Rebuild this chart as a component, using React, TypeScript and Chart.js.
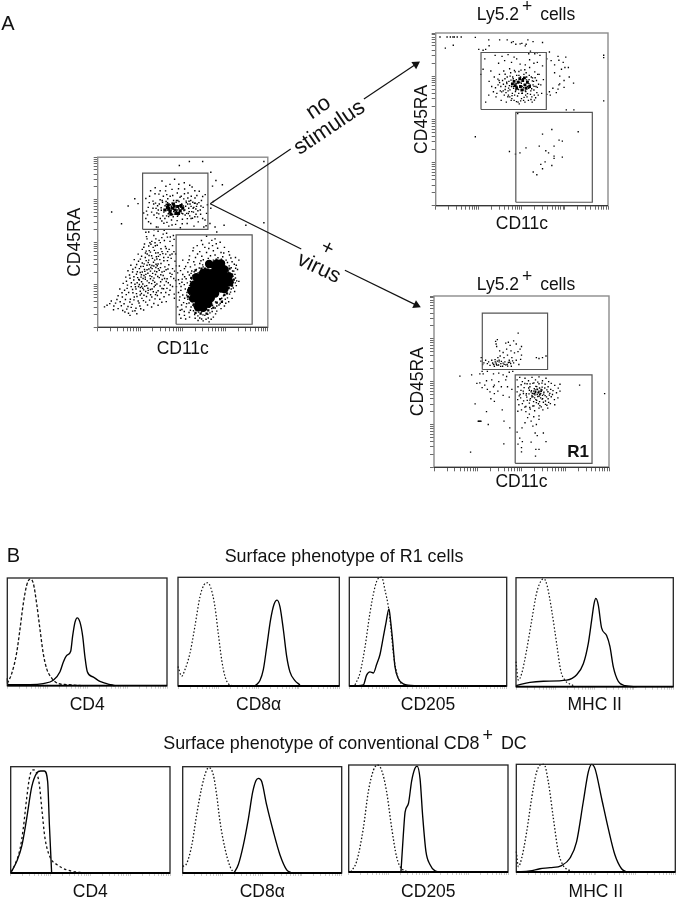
import React, { useEffect, useRef } from "react";
import { Chart, registerables } from "chart.js";

Chart.register(...registerables);

type P = number[];

// log-axis tick channels, four decades over 0..1000
const logTicks = [0,75,119,150,175,194,211,226,239,250,325,369,400,425,444,461,476,489,500,575,619,650,675,694,711,726,739,750,825,869,900,925,944,961,976,989,1000];

// gates [xMin, xMax, yMin, yMax]
const mainUpperGate = [264, 648, 576, 906];
const mainLowerGate = [461, 908, 18, 543];
const noStimUpperGate = [263, 642, 557, 887];
const noStimLowerGate = [465, 909, 20, 540];
const virusUpperGate = [276, 649, 571, 900];
const virusLowerGate = [464, 903, 23, 540];

// parent plot
const mainUpperDots: P[] = [[283,640],[297,705],[305,770],[270,672],[312,610],[325,742],[338,820],[331,660],[345,590],[352,715],[360,783],[368,640],[378,860],[381,735],[389,612],[392,690],[399,802],[405,655],[412,756],[418,595],[425,840],[428,720],[434,631],[441,775],[447,680],[452,870],[458,605],[463,745],[469,652],[475,815],[480,715],[486,585],[491,770],[498,635],[503,700],[509,850],[514,660],[520,742],[526,610],[531,790],[538,680],[543,725],[549,640],[555,825],[561,700],[566,595],[572,760],[578,665],[585,725],[591,620],[597,800],[603,690],[610,745],[617,640],[624,590],[632,780],[640,670],[645,720],[325,700],[348,672],[362,725],[374,688],[383,655],[396,715],[402,740],[409,690],[415,668],[422,705],[431,685],[437,730],[444,650],[450,712],[456,665],[461,735],[467,690],[472,660],[478,740],[483,680],[489,705],[494,725],[500,668],[506,755],[512,690],[517,712],[523,670],[529,725],[535,700],[541,655],[547,745],[553,680],[559,735],[565,705],[571,650],[577,695],[583,775],[589,685],[340,730],[356,690],[367,750],[386,770],[395,640],[406,780],[426,770],[446,745],[468,790],[484,765],[510,785],[530,760],[550,770],[574,730],[605,665],[620,705],[82,678],[140,609],[218,756],[179,713],[237,727],[539,975],[617,975],[480,951],[977,975],[977,615],[695,863],[733,838],[675,830],[665,912],[871,600],[743,600],[700,560],[690,590],[660,610],[665,700],[680,740],[373,703],[389,677],[403,722],[417,651],[433,712],[447,693],[463,681],[477,697],[493,671],[507,687],[521,733],[533,669],[549,711],[563,677],[379,745],[411,733],[441,663],[471,745],[503,713],[537,741],[359,667],[343,699],[329,725],[317,677],[303,733],[293,661],[569,729],[581,711],[595,733],[607,713],[587,649],[557,641],[527,639],[497,609],[467,627],[437,601],[407,617],[377,625],[347,645],[299,621],[287,683],[617,769],[571,803],[541,835],[511,813],[477,841],[437,811],[401,829],[367,803],[337,785],[311,803],[283,757],[631,631],[637,597]];
const mainUpperCore: P[] = [[395,690],[410,705],[425,680],[440,700],[455,690],[470,710],[485,685],[500,700],[415,720],[445,725],[475,670],[430,665],[460,670],[490,715],[420,695],[450,712]];
const mainLeftDots: P[] = [[300,560],[330,540],[355,565],[385,548],[410,530],[290,520],[318,505],[342,520],[368,498],[392,510],[425,505],[445,540],[275,490],[300,478],[326,470],[350,482],[372,462],[398,475],[420,458],[440,480],[262,458],[285,448],[310,442],[333,452],[355,438],[378,445],[400,430],[425,425],[448,445],[238,430],[258,418],[280,410],[302,422],[322,405],[345,415],[365,398],[388,410],[410,392],[432,405],[455,388],[215,398],[240,388],[262,378],[285,392],[305,368],[328,382],[350,362],[372,375],[395,355],[418,368],[440,345],[195,365],[222,352],[245,345],[268,358],[290,338],[312,352],[335,330],[356,345],[378,325],[402,338],[425,318],[452,330],[178,332],[205,325],[228,312],[250,322],[272,305],[295,318],[318,298],[340,310],[362,292],[385,305],[408,285],[430,298],[458,275],[165,295],[190,288],[212,278],[235,292],[258,268],[280,282],[302,262],[325,275],[348,255],[370,268],[392,248],[415,262],[440,240],[150,258],[175,248],[198,262],[222,238],[245,252],[265,230],[288,245],[310,222],[332,238],[355,215],[378,228],[400,205],[425,218],[450,195],[130,225],[158,218],[182,205],[205,222],[228,198],[250,212],[272,188],[295,202],[318,178],[340,192],[365,165],[390,180],[120,185],[145,178],[168,192],[192,165],[215,178],[238,155],[260,170],[282,148],[305,160],[330,140],[355,130],[105,142],[132,150],[155,138],[178,122],[202,135],[225,112],[248,125],[270,102],[95,125],[120,110],[160,90],[190,70],[205,95],[230,80],[55,130],[80,155],[40,120],[330,360],[342,352],[355,372],[320,345],[310,330],[335,395],[348,402],[300,395],[362,335],[290,365],[275,340],[262,325],[280,295],[255,295],[245,278],[265,255],[240,240],[258,240],[232,262],[270,220],[282,210],[250,190],[225,225],[310,285],[335,265],[295,230],[320,225],[345,205],[287,533],[313,488],[337,497],[361,511],[403,463],[291,431],[317,421],[341,437],[367,427],[389,391],[414,411],[251,401],[273,373],[297,381],[319,363],[343,371],[369,351],[391,329],[413,343],[229,369],[253,357],[277,329],[301,343],[323,317],[347,327],[371,309],[393,287],[437,311],[207,341],[233,327],[257,309],[283,311],[307,303],[331,289],[353,299],[379,281],[403,269],[187,307],[213,297],[241,281],[267,287],[291,273],[317,257],[339,247],[367,243],[387,227],[427,249],[169,271],[197,239],[219,253],[251,233],[277,241],[297,217],[327,209],[351,187],[373,203],[407,229],[143,203],[173,229],[207,203],[231,181],[257,199],[287,181],[311,191],[337,167],[377,147],[163,163],[189,149],[213,161],[243,143],[269,157],[293,131],[317,119],[113,163],[139,127],[171,107],[197,117],[219,97],[253,109],[147,99],[181,83],[93,103],[71,139],[281,437],[303,451],[357,417],[383,433],[411,445],[437,431],[271,471],[339,479],[307,497],[377,527],[331,573],[405,553],[283,559],[355,589],[391,571],[427,531],[449,517],[458,431],[462,361],[447,287],[463,239],[451,171],[419,191],[403,151]];
const mainBlobHalo: P[] = [[640,535],[690,520],[610,510],[655,495],[720,500],[585,480],[630,470],[675,480],[705,465],[745,470],[560,450],[600,445],[640,440],[680,450],[725,440],[770,445],[540,420],[575,410],[612,418],[650,405],[690,425],[735,415],[775,425],[810,410],[500,395],[530,380],[565,385],[600,375],[640,380],[680,395],[715,385],[755,395],[790,385],[830,395],[480,360],[510,345],[545,355],[580,340],[620,355],[665,370],[705,360],[745,365],[785,350],[815,365],[470,320],[500,310],[530,325],[560,305],[590,320],[800,330],[822,340],[770,310],[795,300],[810,290],[475,280],[495,265],[520,285],[545,270],[565,255],[490,240],[515,225],[540,245],[560,225],[475,205],[500,190],[525,205],[550,185],[570,200],[480,160],[505,145],[530,165],[555,150],[575,170],[470,120],[495,105],[520,120],[545,100],[565,125],[590,110],[610,90],[480,75],[510,70],[540,60],[570,75],[600,55],[630,70],[660,85],[650,55],[680,60],[620,38],[655,32],[590,40],[700,95],[725,110],[745,125],[700,125],[670,110],[770,150],[790,170],[750,165],[805,210],[785,225],[815,245],[775,195],[795,265],[830,270],[770,255],[560,130],[585,140],[610,125],[640,105],[675,130],[720,140],[740,185],[485,100],[563,467],[617,487],[671,511],[697,491],[653,463],[587,431],[621,397],[663,421],[707,409],[741,437],[783,407],[537,397],[571,367],[607,391],[651,351],[727,401],[763,381],[803,371],[517,357],[553,331],[597,349],[627,327],[773,361],[811,347],[793,331],[487,333],[511,297],[539,307],[567,327],[583,297],[807,311],[783,293],[817,273],[497,283],[527,261],[553,283],[577,263],[481,257],[509,251],[535,231],[553,211],[489,217],[523,189],[561,187],[483,179],[511,171],[537,143],[567,153],[493,131],[523,139],[549,119],[577,117],[509,93],[537,87],[563,97],[593,89],[619,73],[647,77],[673,93],[691,113],[713,131],[733,153],[763,173],[781,207],[797,231],[809,261],[589,67],[611,49],[637,47],[667,47],[693,79],[573,53],[517,49],[489,53],[693,149],[729,171],[757,215],[739,207],[779,251],[753,141],[601,133],[633,127],[657,119],[551,163],[541,193],[531,219],[563,301],[549,317],[617,367],[657,391],[697,401],[733,389],[769,331],[781,261]];
const mainBlobMid: P[] = [[700,390],[740,380],[665,355],[630,345],[600,320],[775,345],[790,310],[780,275],[770,230],[745,190],[720,165],[700,145],[680,115],[650,100],[620,100],[590,105],[565,135],[550,170],[545,205],[555,240],[570,280],[590,305],[610,345],[645,375],[680,380],[720,370],[755,350],[800,280],[790,245],[760,200],[730,150],[640,80],[605,80],[575,85],[540,230],[530,180],[550,290],[575,335]];
const mainBlobCore: P[] = [[692,352],[722,348],[642,322],[668,318],[702,322],[732,316],[610,292],[640,288],[672,292],[700,286],[730,292],[755,288],[590,262],[620,258],[650,262],[680,256],[710,262],[740,258],[760,262],[580,232],[610,228],[640,232],[670,226],[700,232],[725,228],[570,200],[600,202],[630,198],[660,202],[690,198],[575,170],[605,172],[635,168],[665,172],[595,140],[625,142],[650,138],[655,372],[700,375],[725,375],[745,340],[770,300],[775,265],[745,225],[560,170],[550,215],[620,115],[590,118],[565,250],[580,295],[620,320],[620,140]];

// no-stimulus plot
const noStimDots: P[] = [[25,977],[66,977],[85,977],[100,977],[108,977],[125,977],[148,977],[56,912],[102,929],[230,975],[308,960],[310,926],[371,960],[415,960],[440,945],[450,950],[465,935],[490,937],[500,940],[520,925],[525,935],[535,960],[565,950],[620,945],[250,905],[275,900],[290,905],[345,870],[385,865],[420,875],[455,860],[540,880],[550,895],[575,880],[590,885],[605,870],[645,850],[660,890],[670,840],[690,815],[710,865],[715,842],[755,860],[750,800],[740,830],[770,800],[730,790],[690,770],[720,750],[775,745],[800,710],[715,700],[745,685],[710,675],[680,680],[660,660],[700,655],[665,640],[645,645],[720,705],[745,725],[285,850],[365,825],[400,840],[440,830],[470,850],[490,820],[520,815],[545,845],[570,825],[590,830],[620,810],[310,720],[325,690],[340,745],[335,660],[350,630],[362,700],[370,760],[375,665],[380,610],[388,725],[395,780],[398,640],[405,690],[410,600],[415,745],[420,665],[425,720],[430,630],[435,770],[440,690],[445,650],[450,735],[455,610],[460,705],[465,670],[470,755],[475,635],[480,720],[485,590],[490,690],[495,785],[500,650],[505,735],[510,610],[515,700],[520,665],[525,770],[530,630],[535,720],[540,680],[545,800],[550,645],[555,745],[560,600],[565,700],[570,670],[575,775],[580,625],[585,725],[590,685],[595,640],[600,760],[610,700],[615,650],[625,730],[355,650],[368,725],[378,690],[392,665],[402,735],[412,715],[422,640],[432,750],[442,620],[452,680],[462,775],[472,690],[482,650],[492,745],[502,690],[512,760],[522,640],[532,690],[542,730],[552,665],[562,740],[572,640],[582,690],[592,760],[408,655],[428,695],[448,705],[468,730],[488,715],[508,670],[528,745],[548,700],[568,720],[438,610],[458,640],[478,600],[498,620],[518,600],[538,610],[558,630],[290,600],[308,640],[320,780],[275,790],[262,760],[674,441],[620,414],[827,428],[716,380],[735,374],[601,345],[687,345],[524,335],[428,314],[489,306],[463,299],[639,318],[655,306],[687,287],[687,274],[735,281],[635,254],[610,239],[674,233],[620,214],[566,195],[587,179],[230,399],[758,555],[802,555],[975,871],[975,857],[975,607],[476,534],[423,681],[437,727],[451,691],[467,707],[481,673],[497,709],[511,683],[527,729],[541,707],[557,677],[413,707],[431,671],[447,745],[463,661],[483,755],[503,651],[523,661],[543,755],[561,723],[403,673],[393,703],[571,691],[577,741],[597,703],[383,659],[371,713],[347,683],[361,733],[419,631],[443,637],[469,603],[493,607],[513,627],[533,649],[553,615],[573,611],[457,783],[483,777],[517,787],[429,793],[403,761],[587,655]];
const noStimCore: P[] = [[445,705],[462,695],[478,715],[492,690],[505,725],[518,700],[532,715],[545,690],[470,680],[500,670],[525,680],[488,735],[515,740],[455,720]];

// virus plot
const virusDots: P[] = [[340,600],[350,615],[360,595],[372,625],[382,605],[392,590],[405,615],[418,600],[430,625],[442,590],[455,610],[330,625],[320,595],[305,605],[295,625],[285,610],[365,640],[378,650],[400,640],[420,655],[445,640],[470,625],[485,600],[495,630],[500,655],[480,675],[492,690],[500,705],[375,680],[358,705],[355,720],[362,745],[352,735],[410,725],[425,730],[435,712],[455,738],[470,720],[481,783],[460,668],[440,680],[415,690],[395,670],[270,640],[268,620],[278,600],[620,640],[585,640],[600,635],[640,650],[372,615],[385,618],[395,608],[410,598],[345,590],[355,608],[362,620],[425,612],[438,605],[312,615],[148,532],[215,540],[262,493],[281,545],[262,545],[275,560],[305,560],[340,545],[370,550],[395,540],[415,530],[430,555],[450,560],[245,490],[300,505],[330,510],[345,480],[370,500],[385,470],[410,510],[365,445],[340,470],[320,440],[345,430],[325,400],[305,455],[290,480],[395,420],[430,410],[445,455],[420,470],[235,370],[300,325],[310,250],[400,270],[390,335],[345,385],[275,465],[253,269],[258,269],[263,269],[268,269],[399,137],[209,89],[433,230],[503,230],[520,260],[555,270],[600,300],[565,240],[585,250],[475,205],[490,170],[480,135],[505,150],[555,147],[578,200],[625,200],[590,185],[640,150],[500,115],[600,105],[580,65],[582,105],[975,430],[832,480],[720,485],[500,90],[475,510],[490,525],[505,500],[520,520],[540,505],[560,525],[580,510],[600,528],[620,505],[640,520],[655,500],[480,470],[498,482],[515,465],[532,488],[548,470],[565,490],[582,472],[600,488],[618,468],[635,485],[652,470],[670,490],[690,478],[710,462],[475,440],[492,425],[510,445],[528,430],[545,450],[562,432],[578,452],[595,435],[612,455],[628,438],[645,452],[662,432],[680,448],[700,435],[720,445],[478,395],[495,405],[512,388],[530,410],[548,392],[565,412],[582,395],[600,415],[618,398],[635,418],[652,400],[670,412],[688,395],[708,405],[485,365],[505,372],[525,355],[545,375],[565,358],[585,378],[605,360],[625,380],[645,362],[665,372],[690,365],[500,335],[525,325],[550,340],[575,330],[600,345],[622,335],[650,345],[545,310],[570,295],[600,280],[535,290],[560,420],[580,435],[600,445],[570,445],[590,425],[610,432],[555,440],[620,420],[575,405],[541,463],[557,447],[573,459],[587,471],[603,463],[617,451],[633,463],[651,441],[667,455],[527,421],[543,429],[559,411],[577,423],[593,413],[609,405],[627,427],[643,411],[659,421],[677,425],[533,391],[551,401],[569,383],[587,391],[603,383],[621,401],[637,387],[655,379],[511,431],[497,449],[487,417],[519,489],[549,487],[571,493],[593,497],[617,491],[479,327],[519,351],[547,349],[571,359],[597,371],[613,353],[637,367],[341,601],[357,601],[369,597],[381,589],[401,601],[421,591],[433,613],[349,629],[335,609],[449,621]];
const virusCore: P[] = [[580,442],[598,438],[612,445],[590,455],[605,425],[572,430]];

// overlaid arrows (page pixels)
const noStimArrowA: P[] = [[208.3,201],[290,145.7]];
const noStimArrowB: P[] = [[364.3,95],[417,60]];
const virusArrowA: P[] = [[208.3,201],[300.7,246.7]];
const virusArrowB: P[] = [[345,268.3],[417.5,303.5]];

// histograms: [channel, % of panel height]
const r1Cd4Iso: P[] = [[0,2],[27,11],[58,30],[79,52],[100,76],[121,93],[142,99],[163,95],[184,76],[205,52],[225,30],[246,16],[278,7],[319,2],[372,1],[476,0]];
const r1Cd4Stain: P[] = [[0,7],[2,1],[142,1],[225,2],[288,5],[330,13],[351,22],[372,28],[397,32],[409,46],[424,59],[438,63],[455,59],[472,46],[486,27],[501,13],[539,8],[580,4],[622,2],[674,0]];
const r1Cd8Iso: P[] = [[0,18],[23,9],[43,15],[74,30],[105,55],[136,82],[161,93],[182,95],[202,91],[229,73],[250,48],[271,24],[291,9],[322,1],[384,0]];
const r1Cd8Stain: P[] = [[477,0],[508,5],[529,15],[550,36],[574,61],[595,75],[614,79],[632,73],[653,52],[674,27],[694,13],[725,5],[756,1]];
const r1Cd205Iso: P[] = [[36,1],[68,12],[100,36],[131,67],[163,91],[184,99],[206,100],[227,88],[248,73],[263,55],[280,30],[301,12],[333,2],[386,0]];
const r1Cd205Stain: P[] = [[4,0],[89,1],[110,10],[131,13],[153,12],[174,20],[195,29],[216,45],[233,58],[252,71],[263,59],[275,42],[290,18],[311,7],[343,2],[439,0]];
const r1MhcIso: P[] = [[0,23],[15,6],[36,12],[68,34],[100,61],[131,86],[163,98],[178,99],[199,92],[227,70],[258,40],[284,15],[311,6],[364,1]];
const r1MhcStain: P[] = [[0,1],[89,4],[174,5],[322,6],[386,11],[428,21],[460,40],[481,61],[496,76],[508,81],[523,75],[544,54],[576,47],[597,37],[619,18],[650,5],[693,1],[767,0]];
const dcCd4Iso: P[] = [[0,1],[27,8],[59,23],[79,42],[100,70],[121,92],[142,97],[163,94],[180,83],[195,61],[215,33],[247,15],[289,8],[351,3],[456,0]];
const dcCd4Stain: P[] = [[0,0],[38,11],[69,25],[100,51],[132,81],[163,94],[188,96],[211,96],[232,86],[243,45],[257,0]];
const dcCd8Iso: P[] = [[0,6],[25,9],[57,26],[88,55],[119,80],[151,97],[168,99],[193,92],[214,73],[235,48],[266,23],[298,6],[323,0]];
const dcCd8Stain: P[] = [[323,0],[350,8],[381,26],[413,51],[440,76],[461,87],[476,89],[497,86],[528,64],[570,39],[612,17],[654,3],[686,0]];
const dcCd205Iso: P[] = [[13,0],[50,10],[92,41],[123,75],[155,95],[180,100],[207,95],[238,75],[270,41],[301,14],[333,3],[395,0]];
const dcCd205Stain: P[] = [[328,0],[343,35],[354,56],[375,64],[395,85],[416,97],[429,99],[448,87],[464,53],[485,19],[510,7],[542,1],[573,0]];
const dcMhcIso: P[] = [[0,19],[13,5],[34,13],[65,37],[96,68],[128,93],[159,100],[174,100],[201,84],[233,50],[264,19],[295,6],[327,2],[358,0]];
const dcMhcStain: P[] = [[0,0],[86,1],[149,3],[212,4],[285,6],[338,13],[379,28],[421,65],[453,93],[474,100],[495,96],[537,68],[579,40],[620,16],[662,3],[694,0]];

const FONT = '"Liberation Sans", Arial, sans-serif';

const framePlugin = {
  id: "frame",
  afterDatasetsDraw(chart: any, _a: any, o: any) {
    const { left, top, right, bottom } = chart.chartArea;
    const c = chart.ctx;
    c.save();
    c.strokeStyle = o.color;
    c.lineWidth = o.width;
    c.strokeRect(left, top, right - left, bottom - top);
    if (o.bottomColor) {
      c.strokeStyle = o.bottomColor;
      c.lineWidth = o.bottomWidth;
      c.beginPath();
      c.moveTo(left, bottom);
      c.lineTo(right, bottom);
      c.stroke();
    }
    c.restore();
  },
};

function gateBox(g: number[]) {
  return [
    { x: g[0], y: g[2] }, { x: g[1], y: g[2] }, { x: g[1], y: g[3] }, { x: g[0], y: g[3] }, { x: g[0], y: g[2] },
  ];
}
const xy = (a: P[]) => a.map((p) => ({ x: p[0], y: p[1] }));
const dots = (a: P[], r: number, style = "rect") => ({
  data: xy(a), showLine: false, pointStyle: style, pointRadius: r, pointBorderWidth: 0,
  pointBackgroundColor: "#000", borderColor: "#000",
});
const gate = (g: number[]) => ({
  data: gateBox(g), showLine: true, pointRadius: 0, borderColor: "#555", borderWidth: 1.2, fill: false,
});

function boxFor(s: any) {
  const cl = Math.floor(s.yCx !== undefined ? s.yCx - 8.75 : s.L - 2);
  const ct = Math.floor(s.T - 3);
  const cr = Math.ceil(s.R + 3);
  const cb = Math.round(s.xCy + 8.75);
  return { cl, ct, w: cr - cl, h: cb - ct };
}

function baseOptions(s: any, tickColor: string, tickLen: number, frame: any) {
  const { cl, ct, w, h } = boxFor(s);
  const axisTitle = (text: string) => ({
    display: true, text, color: "#111", padding: 0,
    font: { family: FONT, size: 17.5, lineHeight: 1 },
  });
  return {
    responsive: false, animation: false as const, events: [] as any[],
    devicePixelRatio: 1,
    layout: { padding: { top: s.T - ct, right: w - (s.R - cl), left: s.yCx !== undefined ? 0 : s.L - cl, bottom: 0 } },
    plugins: { legend: { display: false }, title: { display: false }, tooltip: { enabled: false }, frame },
    scales: {
      x: {
        type: "linear", min: 0, max: 1000,
        title: axisTitle(s.xLabel),
        border: { display: false },
        grid: { drawOnChartArea: false, drawTicks: true, tickLength: tickLen, tickColor, tickWidth: 0.8 },
        ticks: { display: false, autoSkip: false },
        afterBuildTicks: (a: any) => { a.ticks = logTicks.map((v) => ({ value: v })); },
        afterFit: (a: any) => { a.height = ct + h - s.B; },
      },
      y: s.yCx !== undefined
        ? {
            type: "linear", min: 0, max: 1000,
            title: axisTitle(s.yLabel),
            border: { display: false },
            grid: { drawOnChartArea: false, drawTicks: true, tickLength: tickLen, tickColor, tickWidth: 0.8 },
            ticks: { display: false, autoSkip: false },
            afterBuildTicks: (a: any) => { a.ticks = logTicks.map((v) => ({ value: v })); },
            afterFit: (a: any) => { a.width = s.L - cl; },
          }
        : { type: "linear", display: false, min: 0, max: s.yMax ?? 100 },
    },
  };
}

const scatterPanels = [
  { L: 97.7, R: 269, T: 156.7, B: 327.3, xCy: 349, yCx: 75.7, xLabel: "CD11c", yLabel: "CD45RA",
    sets: () => [gate(mainUpperGate), gate(mainLowerGate), dots(mainUpperDots, 1), dots(mainUpperCore, 2.2), dots(mainLeftDots, 1), dots(mainBlobHalo, 1), dots(mainBlobMid, 1.6), dots(mainBlobCore, 4.2, "circle")] },
  { L: 435.7, R: 609, T: 32.7, B: 205.7, xCy: 224, yCx: 422, xLabel: "CD11c", yLabel: "CD45RA",
    sets: () => [gate(noStimUpperGate), gate(noStimLowerGate), dots(noStimDots, 0.95), dots(noStimCore, 2)] },
  { L: 434, R: 609.3, T: 295, B: 467.3, xCy: 482.7, yCx: 418, xLabel: "CD11c", yLabel: "CD45RA",
    sets: () => [gate(virusUpperGate), gate(virusLowerGate), dots(virusDots, 0.95), dots(virusCore, 1.3)] },
];

const histPanels = [
  { L: 7.3, R: 167, T: 578, B: 685.7, xCy: 705, xLabel: "CD4", iso: r1Cd4Iso, stain: r1Cd4Stain, dash: [3, 2], isoW: 1.3 },
  { L: 178, R: 339.3, T: 577.3, B: 686, xCy: 705, xLabel: "CD8α", iso: r1Cd8Iso, stain: r1Cd8Stain, dash: [1.5, 2], isoW: 1.2 },
  { L: 349.3, R: 506.7, T: 577.3, B: 686, xCy: 705, xLabel: "CD205", iso: r1Cd205Iso, stain: r1Cd205Stain, dash: [1.5, 2], isoW: 1.2 },
  { L: 516, R: 673.3, T: 577.7, B: 686.7, xCy: 705, xLabel: "MHC II", iso: r1MhcIso, stain: r1MhcStain, dash: [1.5, 2], isoW: 1.2 },
  { L: 10.7, R: 170, T: 766.7, B: 873, xCy: 892.7, xLabel: "CD4", iso: dcCd4Iso, stain: dcCd4Stain, dash: [2.5, 2.5], isoW: 1.3 },
  { L: 182.7, R: 341.7, T: 766.7, B: 873, xCy: 892.7, xLabel: "CD8α", iso: dcCd8Iso, stain: dcCd8Stain, dash: [1.5, 2], isoW: 1.3 },
  { L: 348.7, R: 508, T: 765, B: 872, xCy: 892.7, xLabel: "CD205", iso: dcCd205Iso, stain: dcCd205Stain, dash: [1.5, 2], isoW: 1.3 },
  { L: 516.3, R: 675.3, T: 764.3, B: 872, xCy: 892.7, xLabel: "MHC II", iso: dcMhcIso, stain: dcMhcStain, dash: [1.5, 2], isoW: 1.3 },
];

const textBase: React.CSSProperties = {
  position: "absolute", fontFamily: FONT, color: "#111", whiteSpace: "nowrap", lineHeight: 1, transform: "translate(-50%,-50%)",
};

function Note(p: { x: number; y: number; size?: number; rot?: number; bold?: boolean; children: React.ReactNode }) {
  return (
    <div style={{ ...textBase, left: p.x, top: p.y, fontSize: p.size ?? 17.5, fontWeight: p.bold ? 700 : 400,
      transform: `translate(-50%,-50%) rotate(${p.rot ?? 0}deg)` }}>{p.children}</div>
  );
}
const Plus = () => <span style={{ position: "relative", top: -8, margin: "0 3px 0 3px" }}>+</span>;

export default function App() {
  const scatterRefs = useRef<(HTMLCanvasElement | null)[]>([]);
  const histRefs = useRef<(HTMLCanvasElement | null)[]>([]);
  const overlayRef = useRef<HTMLCanvasElement | null>(null);

  useEffect(() => {
    document.body.style.margin = "0";
    const charts: Chart[] = [];
    scatterPanels.forEach((s, i) => {
      const cv = scatterRefs.current[i]!;
      charts.push(new Chart(cv, {
        type: "scatter",
        data: { datasets: s.sets() as any },
        options: baseOptions(s, "#444", 4, { color: "#8c8c8c", width: 1.4, bottomColor: "#222", bottomWidth: 1 }) as any,
        plugins: [framePlugin],
      }));
    });
    histPanels.forEach((s, i) => {
      const cv = histRefs.current[i]!;
      charts.push(new Chart(cv, {
        type: "scatter",
        data: {
          datasets: [
            { data: xy(s.iso), showLine: true, pointRadius: 0, borderColor: "#111", borderWidth: s.isoW, borderDash: s.dash, cubicInterpolationMode: "monotone", clip: false },
            { data: xy(s.stain), showLine: true, pointRadius: 0, borderColor: "#000", borderWidth: 1.35, cubicInterpolationMode: "monotone", clip: false },
          ] as any,
        },
        options: baseOptions(s, "#bdbdbd", 3, { color: "#222", width: 1.3, bottomColor: "#000", bottomWidth: 1.8 }) as any,
        plugins: [framePlugin],
      }));
    });
    const arrow = (a: P[], rot: number, head: boolean) => ({
      data: xy(a), showLine: true, borderColor: "#111", borderWidth: 1.2,
      pointStyle: "triangle", pointRotation: rot, pointBackgroundColor: "#111", pointBorderWidth: 0,
      pointRadius: head ? [0, 5] : 0,
    });
    charts.push(new Chart(overlayRef.current!, {
      type: "scatter",
      data: {
        datasets: [
          arrow(noStimArrowA, 0, false), arrow(noStimArrowB, 56.7, true),
          arrow(virusArrowA, 0, false), arrow(virusArrowB, 115.9, true),
        ] as any,
      },
      options: {
        responsive: false, animation: false, events: [], devicePixelRatio: 1,
        plugins: { legend: { display: false }, tooltip: { enabled: false } },
        scales: {
          x: { type: "linear", display: false, min: 0, max: 676 },
          y: { type: "linear", display: false, min: 0, max: 899, reverse: true },
        },
      } as any,
    }));
    return () => charts.forEach((c) => c.destroy());
  }, []);

  const cvStyle = (s: any): React.CSSProperties => {
    const b = boxFor(s);
    return { position: "absolute", left: b.cl, top: b.ct, width: b.w, height: b.h, display: "block" };
  };

  return (
    <div style={{ position: "absolute", left: 0, top: 0, width: 676, height: 899, overflow: "hidden", background: "#fff" }}>
      {scatterPanels.map((s, i) => {
        const b = boxFor(s);
        return <canvas key={"s" + i} ref={(el) => { scatterRefs.current[i] = el; }} width={b.w} height={b.h} style={cvStyle(s)} />;
      })}
      {histPanels.map((s, i) => {
        const b = boxFor(s);
        return <canvas key={"h" + i} ref={(el) => { histRefs.current[i] = el; }} width={b.w} height={b.h} style={cvStyle(s)} />;
      })}
      <canvas ref={overlayRef} width={676} height={899} style={{ position: "absolute", left: 0, top: 0, width: 676, height: 899, display: "block", pointerEvents: "none" }} />

      <Note x={8} y={23} size={20}>A</Note>
      <Note x={13.5} y={555} size={20}>B</Note>
      <Note x={526} y={15}>Ly5.2<Plus /> cells</Note>
      <Note x={526} y={285}>Ly5.2<Plus /> cells</Note>
      <Note x={318} y={107} size={22} rot={-34}>no</Note>
      <Note x={329} y={127} size={22} rot={-34}>stimulus</Note>
      <Note x={327.7} y={246.7} size={21} rot={26}>+</Note>
      <Note x={319} y={268} size={21.5} rot={26}>virus</Note>
      <Note x={578} y={451} size={17} bold>R1</Note>
      <Note x={344} y={557} size={17.9}>Surface phenotype of R1 cells</Note>
      <Note x={345} y={744} size={17.9}>Surface phenotype of conventional CD8<Plus /> DC</Note>
    </div>
  );
}
